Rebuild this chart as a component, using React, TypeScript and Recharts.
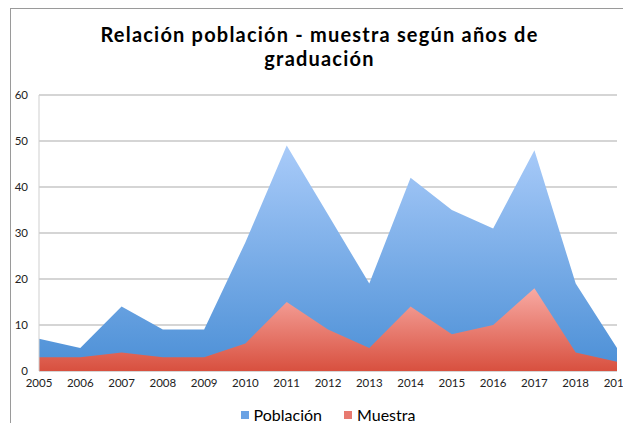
import React from "react";
import { AreaChart, Area, XAxis, YAxis, CartesianGrid, Legend } from "recharts";

const years = [2005, 2006, 2007, 2008, 2009, 2010, 2011, 2012, 2013, 2014, 2015, 2016, 2017, 2018, 2019];
const poblacion = [7, 5, 14, 9, 9, 28, 49, 34, 19, 42, 35, 31, 48, 19, 5];
const muestra = [3, 3, 4, 3, 3, 6, 15, 9, 5, 14, 8, 10, 18, 4, 2];
const yTicks = [0, 10, 20, 30, 40, 50, 60];
const seriesNames = ["Población", "Muestra"];
const seriesColors = ["#6aa2e4", "#e87a70"];

const data = years.map((y, i) => ({ year: String(y), poblacion: poblacion[i], muestra: muestra[i] }));

const font = "Lato, 'Open Sans', sans-serif";

const LegendContent = () => (
  <div
    style={{
      display: "flex",
      justifyContent: "center",
      alignItems: "center",
      fontSize: 16,
      lineHeight: "19px",
      fontFamily: font,
      color: "#000",
      paddingTop: 4,
      paddingLeft: 31,
    }}
  >
    {seriesNames.map((n, i) => (
      <div key={n} style={{ display: "flex", alignItems: "center", marginRight: i === 0 ? 22 : 0 }}>
        <span style={{ display: "inline-block", width: 8, height: 8, background: seriesColors[i], marginRight: 5 }} />
        <span>{n}</span>
      </div>
    ))}
  </div>
);

const titleStyle: React.CSSProperties = {
  position: "absolute",
  left: 0,
  width: 623,
  textAlign: "center",
  fontWeight: 700,
  fontSize: 20,
  letterSpacing: 1.2,
  lineHeight: "22px",
  color: "#000",
  fontFamily: font,
  whiteSpace: "nowrap",
};

export default function App() {
  return (
    <div style={{ position: "relative", width: 623, height: 415, fontFamily: font, overflow: "visible" }}>
      <style>{"html,body{overflow:hidden;} svg{overflow:visible;}"}</style>
      <div
        style={{
          position: "absolute",
          left: 2,
          top: 0,
          width: 621,
          height: 422,
          borderLeft: "1px solid #9a9a9a",
          borderTop: "1px solid #9a9a9a",
        }}
      />
      <div style={{ ...titleStyle, top: 15 }}>Relación población - muestra según años de</div>
      <div style={{ ...titleStyle, top: 39 }}>graduación</div>
      <div style={{ position: "absolute", left: 0, top: 0 }}>
        <AreaChart
          width={623}
          height={415}
          data={data}
          margin={{ top: 87, right: 14, bottom: 0, left: 0 }}
        >
          <defs>
            <linearGradient id="gBlue" x1="0" y1="0" x2="0" y2="1">
              <stop offset="0%" stopColor="#a9cbf9" />
              <stop offset="100%" stopColor="#4b8fd6" />
            </linearGradient>
            <linearGradient id="gRed" x1="0" y1="0" x2="0" y2="1">
              <stop offset="0%" stopColor="#f8aaa3" />
              <stop offset="100%" stopColor="#d8503f" />
            </linearGradient>
          </defs>
          <CartesianGrid vertical={false} stroke="#ababab" strokeWidth={1} />
          <XAxis
            dataKey="year"
            axisLine={false}
            tickLine={false}
            tickSize={0}
            tickMargin={8}
            interval={0}
            tick={{ fill: "#222", fontSize: 11.5, fontFamily: font }}
          />
          <YAxis
            domain={[0, 60]}
            ticks={yTicks}
            width={31}
            axisLine={{ stroke: "#cfcfcf" }}
            tickLine={false}
            tickSize={0}
            tickMargin={11}
            tick={{ fill: "#222", fontSize: 11.5, fontFamily: font }}
          />
          <Legend verticalAlign="bottom" height={22} content={LegendContent} />
          <Area
            type="linear"
            dataKey="poblacion"
            name="Población"
            stroke="none"
            fill="url(#gBlue)"
            fillOpacity={1}
            isAnimationActive={false}
          />
          <Area
            type="linear"
            dataKey="muestra"
            name="Muestra"
            stroke="none"
            fill="url(#gRed)"
            fillOpacity={1}
            isAnimationActive={false}
          />
        </AreaChart>
      </div>
    </div>
  );
}
